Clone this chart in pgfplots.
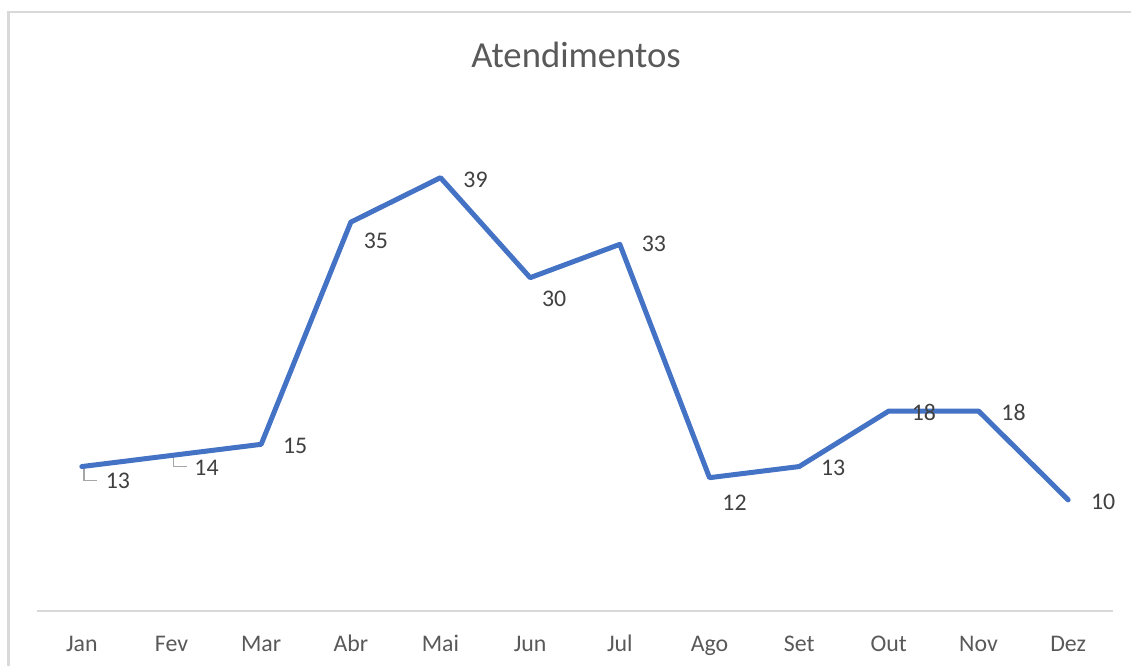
\documentclass[border=0pt]{standalone}
\usepackage{pgfplots}
\pgfplotsset{compat=1.18}
\usepackage{fontspec}
\setmainfont{Carlito}
\definecolor{lineblue}{HTML}{4472C4}
\definecolor{txtgray}{HTML}{595959}
\definecolor{lblgray}{HTML}{404040}
\definecolor{gridgray}{HTML}{D9D9D9}
\definecolor{leadgray}{HTML}{A6A6A6}
\begin{document}
\begin{tikzpicture}[x=0.6pt,y=0.6pt]
\useasboundingbox (0,0) rectangle (1131,666);
\draw[gridgray, line width=1.3pt] (8.5,0) -- (8.5,654) -- (1131,654);
\node[txtgray, anchor=base, font=\fontsize{22}{26}\selectfont] at (576,598) {Atendimentos};
\begin{axis}[
  at={(22.2pt,33pt)}, anchor=south west,
  scale only axis, width=645.6pt, height=300pt,
  xmin=-0.5, xmax=11.5, ymin=0, ymax=45,
  axis x line*=bottom, axis y line=none,
  axis line style={gridgray, line width=1.2pt},
  xtick={0,...,11},
  xticklabels={Jan,Fev,Mar,Abr,Mai,Jun,Jul,Ago,Set,Out,Nov,Dez},
  xticklabel style={anchor=base, yshift=-24pt, text=txtgray, font=\fontsize{14.3}{17}\selectfont},
  major tick length=0pt,
  clip=false,
]
\draw[leadgray, line width=1.1pt] ([shift={(1.2pt,-0.6pt)}]axis cs:0,13) -- ([shift={(1.2pt,-8.4pt)}]axis cs:0,13) -- ([shift={(9pt,-8.4pt)}]axis cs:0,13);
\draw[leadgray, line width=1.1pt] ([shift={(1.2pt,-0.6pt)}]axis cs:1,14) -- ([shift={(1.2pt,-6.6pt)}]axis cs:1,14) -- ([shift={(9pt,-6.6pt)}]axis cs:1,14);
\addplot[lineblue, line width=3pt, line join=round, line cap=round, mark=none] coordinates {
  (0,13) (1,14) (2,15) (3,35) (4,39) (5,30) (6,33) (7,12) (8,13) (9,18) (10,18) (11,10)
};
\begin{scope}[every node/.style={text=lblgray, font=\fontsize{14.3}{17}\selectfont}]
\node at ([shift={(21.6pt,-8.4pt)}]axis cs:0,13) {13};
\node at ([shift={(21pt,-7.2pt)}]axis cs:1,14) {14};
\node at ([shift={(20.4pt,-1.2pt)}]axis cs:2,15) {15};
\node at ([shift={(15pt,-11.4pt)}]axis cs:3,35) {35};
\node at ([shift={(21pt,-1.2pt)}]axis cs:4,39) {39};
\node at ([shift={(14.4pt,-12.6pt)}]axis cs:5,30) {30};
\node at ([shift={(20.4pt,0pt)}]axis cs:6,33) {33};
\node at ([shift={(15pt,-15pt)}]axis cs:7,12) {12};
\node at ([shift={(20.4pt,-0.6pt)}]axis cs:8,13) {13};
\node at ([shift={(21pt,-0.6pt)}]axis cs:9,18) {18};
\node at ([shift={(21pt,-0.6pt)}]axis cs:10,18) {18};
\node at ([shift={(21pt,-1.2pt)}]axis cs:11,10) {10};
\end{scope}
\end{axis}
\end{tikzpicture}
\end{document}
